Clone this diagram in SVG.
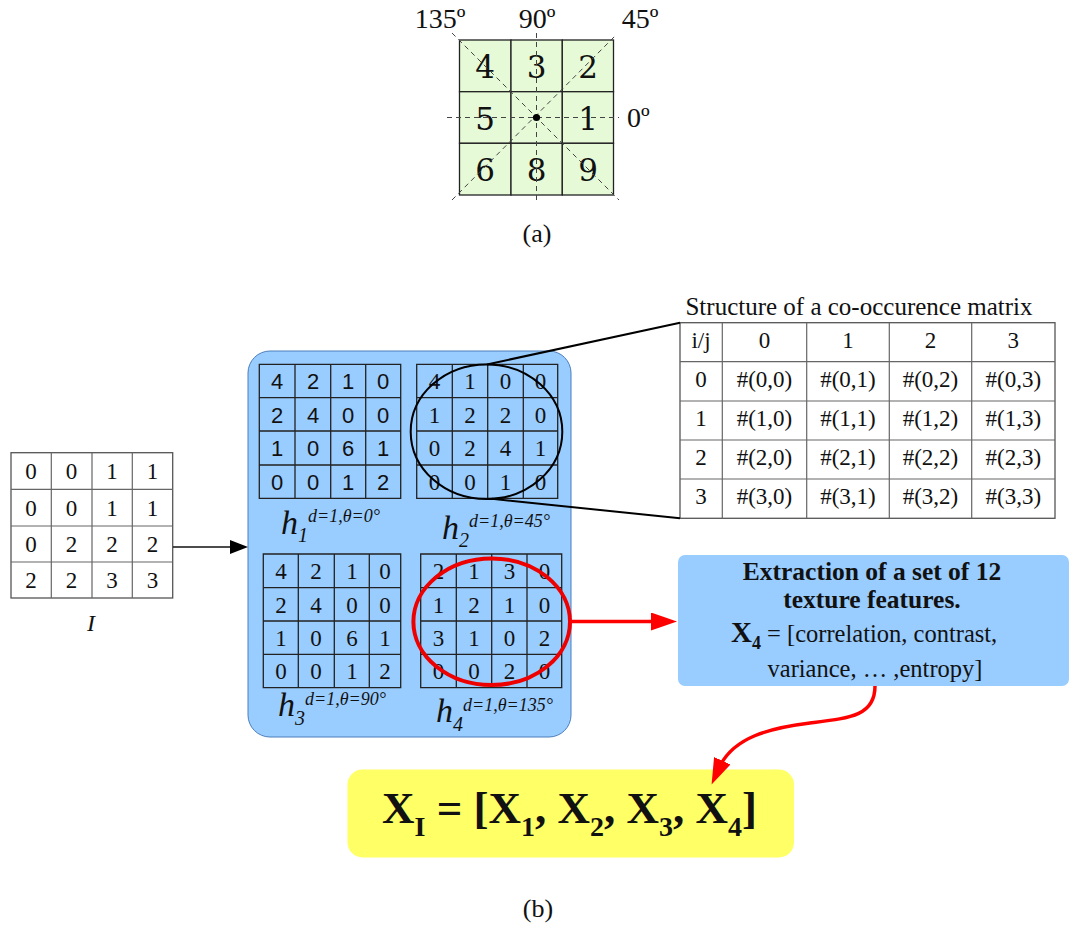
<svg xmlns="http://www.w3.org/2000/svg" width="1069" height="926" viewBox="0 0 1069 926">
<style>
.bg{fill:#ffffff}
.gcell{fill:#e6fad7;stroke:#222;stroke-width:1.3}
.dash{stroke:#444;stroke-width:1;stroke-dasharray:5,4;fill:none}
.cm{font-family:"Liberation Serif","DejaVu Serif",serif;fill:#111}
.big{font-family:"DejaVu Serif","Liberation Serif",serif;font-size:31px;fill:#111;text-anchor:middle}
.grid{stroke:#222;stroke-width:1.3;fill:none}
.tgrid{stroke:#666;stroke-width:1.2;fill:none}
.ser{font-family:"Liberation Serif","Times New Roman",serif;font-size:23px;fill:#111;text-anchor:middle}
.sans{font-family:"Liberation Sans",Arial,sans-serif;font-size:22px;fill:#111;text-anchor:middle}
.tab{font-family:"Liberation Serif","Times New Roman",serif;font-size:23px;fill:#111;text-anchor:middle}
.hl{font-family:"Liberation Serif","Times New Roman",serif;font-style:italic;fill:#111}
.conn{stroke:#111;stroke-width:1.3;fill:none}
.red{stroke:#ff0000;stroke-width:3.5;fill:none}
.redell{stroke:#ee0000;stroke-width:4;fill:none}
.blk{stroke:#000;stroke-width:2;fill:none}
</style>
<defs>
<marker id="ah" markerUnits="userSpaceOnUse" markerWidth="20" markerHeight="16" refX="4" refY="7" orient="auto">
<path d="M0,0 L18,7 L0,14 z" fill="#000"/>
</marker>
<marker id="rah" markerUnits="userSpaceOnUse" markerWidth="28" markerHeight="20" refX="8" refY="9" orient="auto">
<path d="M0,0 L26,9 L0,18 z" fill="#ff0000"/>
</marker>
</defs>
<rect class="bg" x="0" y="0" width="1069" height="926"/>

<!-- (a) neighbourhood -->
<g id="neighbourhood">
<rect class="gcell" x="459.5" y="40" width="51.5" height="51.7"/>
<rect class="gcell" x="511" y="40" width="51.3" height="51.7"/>
<rect class="gcell" x="562.3" y="40" width="51.2" height="51.7"/>
<rect class="gcell" x="459.5" y="91.7" width="51.5" height="51.6"/>
<rect class="gcell" x="511" y="91.7" width="51.3" height="51.6"/>
<rect class="gcell" x="562.3" y="91.7" width="51.2" height="51.6"/>
<rect class="gcell" x="459.5" y="143.3" width="51.5" height="51.7"/>
<rect class="gcell" x="511" y="143.3" width="51.3" height="51.7"/>
<rect class="gcell" x="562.3" y="143.3" width="51.2" height="51.7"/>
<text class="big" x="485" y="78">4</text>
<text class="big" x="536.5" y="78">3</text>
<text class="big" x="588" y="78">2</text>
<text class="big" x="485" y="130">5</text>
<text class="big" x="588" y="130">1</text>
<text class="big" x="485" y="181">6</text>
<text class="big" x="536.5" y="181">8</text>
<text class="big" x="588" y="181">9</text>
<line class="dash" x1="447" y1="117.5" x2="619" y2="117.5"/>
<line class="dash" x1="536.5" y1="33" x2="536.5" y2="204"/>
<line class="dash" x1="452" y1="33" x2="619" y2="200"/>
<line class="dash" x1="452" y1="200" x2="616" y2="35"/>
<circle cx="536.5" cy="117.5" r="3.6" fill="#000"/>
<text class="cm" x="440" y="28" font-size="28" text-anchor="middle">135º</text>
<text class="cm" x="537" y="28" font-size="28" text-anchor="middle">90º</text>
<text class="cm" x="640" y="28" font-size="28" text-anchor="middle">45º</text>
<text class="cm" x="627" y="127" font-size="28">0º</text>
<text class="cm" x="537" y="242" font-size="26" text-anchor="middle">(a)</text>
</g>

<!-- input image I -->
<g id="imageI">
<rect x="11" y="452.7" width="161.7" height="145.3" fill="#fff" stroke="#555" stroke-width="1.3"/>
<path class="tgrid" d="M51.3,452.7V598M92,452.7V598M132.3,452.7V598M11,489.3H172.7M11,526H172.7M11,562H172.7"/>
<g class="ser">
<text x="31" y="479">0</text><text x="71.5" y="479">0</text><text x="112" y="479">1</text><text x="152.5" y="479">1</text>
<text x="31" y="515.5">0</text><text x="71.5" y="515.5">0</text><text x="112" y="515.5">1</text><text x="152.5" y="515.5">1</text>
<text x="31" y="552">0</text><text x="71.5" y="552">2</text><text x="112" y="552">2</text><text x="152.5" y="552">2</text>
<text x="31" y="588">2</text><text x="71.5" y="588">2</text><text x="112" y="588">3</text><text x="152.5" y="588">3</text>
</g>
<text class="hl" x="91" y="631" font-size="24" text-anchor="middle">I</text>
</g>

<!-- blue container of co-occurrence matrices -->
<g id="cooc">
<rect x="248" y="351" width="323" height="386" rx="22" fill="#99ccff" stroke="#4a7ebb" stroke-width="1"/>

<g id="h1">
<path class="grid" d="M259.3,364.3H400.7V498.3H259.3Z M295,364.3V498.3M330.7,364.3V498.3M365.7,364.3V498.3M259.3,397.7H400.7M259.3,431H400.7M259.3,465H400.7"/>
<g class="sans">
<text x="277" y="389">4</text><text x="313" y="389">2</text><text x="348" y="389">1</text><text x="383" y="389">0</text>
<text x="277" y="422.5">2</text><text x="313" y="422.5">4</text><text x="348" y="422.5">0</text><text x="383" y="422.5">0</text>
<text x="277" y="456">1</text><text x="313" y="456">0</text><text x="348" y="456">6</text><text x="383" y="456">1</text>
<text x="277" y="489.5">0</text><text x="313" y="489.5">0</text><text x="348" y="489.5">1</text><text x="383" y="489.5">2</text>
</g>
<text class="hl" x="281" y="534" font-size="34">h<tspan font-size="20" dy="8">1</tspan><tspan font-size="18" dy="-20">d=1,θ=0°</tspan></text>
</g>

<g id="h2">
<path class="grid" d="M416.7,364.3H557.7V498.3H416.7Z M452.3,364.3V498.3M487.7,364.3V498.3M523.3,364.3V498.3M416.7,397.7H557.7M416.7,431H557.7M416.7,465H557.7"/>
<g class="ser">
<text x="434.5" y="389">4</text><text x="470" y="389">1</text><text x="505.5" y="389">0</text><text x="540.5" y="389">0</text>
<text x="434.5" y="422.5">1</text><text x="470" y="422.5">2</text><text x="505.5" y="422.5">2</text><text x="540.5" y="422.5">0</text>
<text x="434.5" y="456">0</text><text x="470" y="456">2</text><text x="505.5" y="456">4</text><text x="540.5" y="456">1</text>
<text x="434.5" y="489.5">0</text><text x="470" y="489.5">0</text><text x="505.5" y="489.5">1</text><text x="540.5" y="489.5">0</text>
</g>
<text class="hl" x="442" y="539" font-size="34">h<tspan font-size="20" dy="8">2</tspan><tspan font-size="18" dy="-20">d=1,θ=45°</tspan></text>
</g>

<g id="h3">
<path class="grid" d="M263.3,554H400.7V687.7H263.3Z M298.3,554V687.7M334.3,554V687.7M369.3,554V687.7M263.3,587.7H400.7M263.3,621H400.7M263.3,654.3H400.7"/>
<g class="ser">
<text x="281" y="579">4</text><text x="316" y="579">2</text><text x="352" y="579">1</text><text x="385" y="579">0</text>
<text x="281" y="612.5">2</text><text x="316" y="612.5">4</text><text x="352" y="612.5">0</text><text x="385" y="612.5">0</text>
<text x="281" y="646">1</text><text x="316" y="646">0</text><text x="352" y="646">6</text><text x="385" y="646">1</text>
<text x="281" y="679">0</text><text x="316" y="679">0</text><text x="352" y="679">1</text><text x="385" y="679">2</text>
</g>
<text class="hl" x="278" y="716" font-size="34">h<tspan font-size="20" dy="9">3</tspan><tspan font-size="18" dy="-20">d=1,θ=90°</tspan></text>
</g>

<g id="h4">
<path class="grid" d="M420.7,554H561.7V687.7H420.7Z M456.3,554V687.7M491.7,554V687.7M527,554V687.7M420.7,587.7H561.7M420.7,621H561.7M420.7,654.3H561.7"/>
<g class="ser">
<text x="438.5" y="579">2</text><text x="474" y="579">1</text><text x="509.5" y="579">3</text><text x="544.5" y="579">0</text>
<text x="438.5" y="612.5">1</text><text x="474" y="612.5">2</text><text x="509.5" y="612.5">1</text><text x="544.5" y="612.5">0</text>
<text x="438.5" y="646">3</text><text x="474" y="646">1</text><text x="509.5" y="646">0</text><text x="544.5" y="646">2</text>
<text x="438.5" y="679">0</text><text x="474" y="679">0</text><text x="509.5" y="679">2</text><text x="544.5" y="679">0</text>
</g>
<text class="hl" x="436" y="722" font-size="34">h<tspan font-size="20" dy="9">4</tspan><tspan font-size="18" dy="-20">d=1,θ=135°</tspan></text>
</g>

<ellipse class="blk" cx="486.5" cy="431.7" rx="75.8" ry="67.3"/>
<ellipse class="redell" cx="491.7" cy="621.7" rx="78.3" ry="63.3"/>
</g>

<!-- structure table -->
<g id="structure">
<text class="cm" x="859" y="315" font-size="25" text-anchor="middle">Structure of a co-occurence matrix</text>
<rect x="680" y="322.7" width="375" height="195.6" fill="#fff" stroke="#555" stroke-width="1.3"/>
<path class="tgrid" d="M722.3,322.7V518.3M806.7,322.7V518.3M889.3,322.7V518.3M971.7,322.7V518.3M680,361.7H1055M680,401H1055M680,440H1055M680,479H1055"/>
<g class="tab">
<text x="701" y="348">i/j</text><text x="764.5" y="348">0</text><text x="848" y="348">1</text><text x="930.5" y="348">2</text><text x="1013.3" y="348">3</text>
<text x="701" y="387">0</text><text x="764.5" y="387">#(0,0)</text><text x="848" y="387">#(0,1)</text><text x="930.5" y="387">#(0,2)</text><text x="1013.3" y="387">#(0,3)</text>
<text x="701" y="426">1</text><text x="764.5" y="426">#(1,0)</text><text x="848" y="426">#(1,1)</text><text x="930.5" y="426">#(1,2)</text><text x="1013.3" y="426">#(1,3)</text>
<text x="701" y="465">2</text><text x="764.5" y="465">#(2,0)</text><text x="848" y="465">#(2,1)</text><text x="930.5" y="465">#(2,2)</text><text x="1013.3" y="465">#(2,3)</text>
<text x="701" y="504">3</text><text x="764.5" y="504">#(3,0)</text><text x="848" y="504">#(3,1)</text><text x="930.5" y="504">#(3,2)</text><text x="1013.3" y="504">#(3,3)</text>
</g>
</g>

<!-- extraction box -->
<g id="extraction">
<rect x="678" y="555" width="391" height="131" rx="7" fill="#99ccff"/>
<text class="cm" x="872" y="580" font-size="25.5" font-weight="bold" text-anchor="middle">Extraction of a set of 12</text>
<text class="cm" x="872" y="608" font-size="25.5" font-weight="bold" text-anchor="middle">texture features.</text>
<text class="cm" x="731" y="642" font-size="24.5"><tspan font-weight="bold" font-size="29">X</tspan><tspan font-weight="bold" font-size="18" dy="7">4</tspan><tspan dy="-7"> = [correlation, contrast,</tspan></text>
<text class="cm" x="875" y="677" font-size="24.5" text-anchor="middle">variance, … ,entropy]</text>
</g>

<!-- result box -->
<g id="result">
<rect x="347.5" y="769.5" width="446.5" height="88" rx="15" fill="#ffff66"/>
<text class="cm" x="382" y="823" font-size="45" font-weight="bold">X<tspan font-size="28" dy="13">I</tspan><tspan dy="-13"> = [X</tspan><tspan font-size="28" dy="13">1</tspan><tspan dy="-13">, X</tspan><tspan font-size="28" dy="13">2</tspan><tspan dy="-13">, X</tspan><tspan font-size="28" dy="13">3</tspan><tspan dy="-13">, X</tspan><tspan font-size="28" dy="13">4</tspan><tspan dy="-13">]</tspan></text>
</g>

<text class="cm" x="538" y="917" font-size="26" text-anchor="middle">(b)</text>

<!-- connectors -->
<g id="connectors">
<line class="conn" x1="173" y1="547" x2="234" y2="547" marker-end="url(#ah)"/>
<line class="blk" x1="487" y1="364.4" x2="680" y2="322.7"/>
<line class="blk" x1="492" y1="498.8" x2="680" y2="518.3"/>
<line class="red" x1="570" y1="621.5" x2="659" y2="621.5" marker-end="url(#rah)"/>
<path class="red" d="M875,686 C875,716 850,718 810,723 C770,728 733,737 719,768" marker-end="url(#rah)"/>
</g>
</svg>
